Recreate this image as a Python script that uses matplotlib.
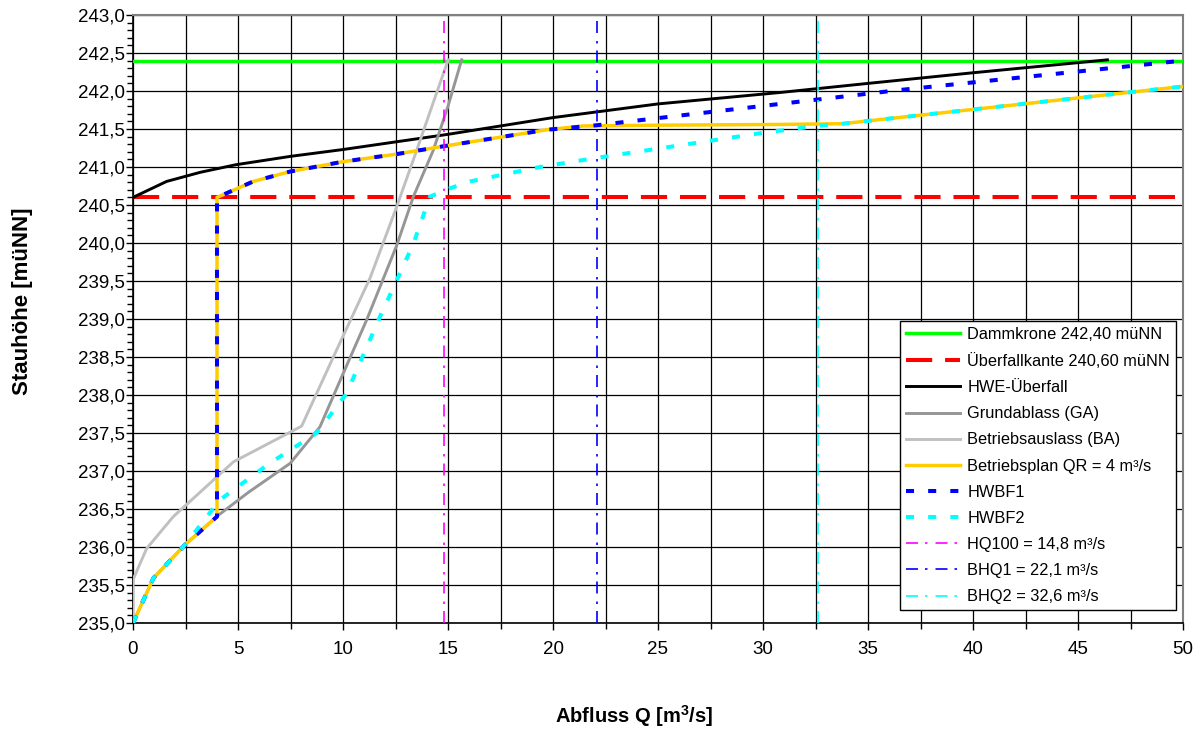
import matplotlib
matplotlib.use("Agg")
import matplotlib.pyplot as plt
from matplotlib.ticker import MultipleLocator, FuncFormatter

plt.rcParams['font.family'] = ['Liberation Sans', 'DejaVu Sans']

# ---- data ----
dammkrone = 242.40
ueberfallkante = 240.60

hwe_q = [0, 1.6, 3.2, 4.9, 7.5, 10, 15, 20, 25, 30.8, 35, 40, 46.4]
hwe_h = [240.60, 240.81, 240.93, 241.03, 241.14, 241.23, 241.43, 241.65, 241.83, 241.98, 242.10, 242.24, 242.41]

ga_q = [0, 0.97, 2.48, 3.98, 5.5, 7.48, 8.9, 9.94, 11.13, 12.56, 13.35, 14.3, 15.0, 15.65]
ga_h = [235.0, 235.59, 236.03, 236.40, 236.72, 237.10, 237.58, 238.24, 238.99, 239.97, 240.61, 241.22, 241.80, 242.41]

ba_q = [0, 0, 0.65, 1.92, 4.78, 8.03, 9.54, 11.29, 12.56, 13.51, 14.3, 15.01]
ba_h = [235.0, 235.57, 235.98, 236.40, 237.12, 237.59, 238.50, 239.54, 240.48, 241.22, 241.85, 242.41]

bp_q = [0, 0.97, 2.48, 4.0, 4.0, 5.73, 7.48, 10.0, 12.56, 14.94, 19.7, 21.44, 25.0, 30.8, 33.8, 50.0]
bp_h = [235.0, 235.59, 236.03, 236.40, 240.60, 240.81, 240.94, 241.07, 241.17, 241.28, 241.49, 241.54, 241.55, 241.56, 241.57, 242.06]

hwbf1_q = [0, 0.97, 2.48, 4.0, 4.0, 5.73, 7.48, 10.0, 12.56, 14.94, 19.7, 22.1, 36.4, 50.0]
hwbf1_h = [235.0, 235.59, 236.03, 236.40, 240.60, 240.81, 240.94, 241.07, 241.17, 241.28, 241.49, 241.55, 242.01, 242.40]

hwbf2_q = [0, 0.97, 2.48, 4.14, 6.5, 8.75, 10.17, 11.76, 12.56, 13.35, 14.14, 15.1, 16.05, 19.38, 22.08, 30.0, 32.56, 33.8, 50.0]
hwbf2_h = [235.0, 235.59, 236.03, 236.62, 237.10, 237.50, 238.02, 239.03, 239.51, 239.99, 240.61, 240.72, 240.81, 241.00, 241.12, 241.45, 241.54, 241.57, 242.06]

hq100 = 14.8
bhq1 = 22.1
bhq2 = 32.6

labels = ["Dammkrone 242,40 müNN", "Überfallkante 240,60 müNN", "HWE-Überfall",
          "Grundablass (GA)", "Betriebsauslass (BA)", "Betriebsplan QR = 4 m³/s",
          "HWBF1", "HWBF2", "HQ100 = 14,8 m³/s", "BHQ1 = 22,1 m³/s", "BHQ2 = 32,6 m³/s"]

# ---- figure ----
fig = plt.figure(figsize=(12, 7.29), dpi=100)
ax = fig.add_axes([133/1200, 1 - 623/729, 1050/1200, 608/729])

ax.set_xlim(0, 50)
ax.set_ylim(235, 243)

ax.xaxis.set_major_locator(MultipleLocator(5))
ax.xaxis.set_minor_locator(MultipleLocator(2.5))
ax.yaxis.set_major_locator(MultipleLocator(0.5))
ax.yaxis.set_minor_locator(MultipleLocator(0.1))
ax.grid(True, which='major', axis='y', color='black', lw=0.9, zorder=0)
ax.grid(True, which='both', axis='x', color='black', lw=0.9, zorder=0)
ax.set_axisbelow(True)

ax.xaxis.set_major_formatter(FuncFormatter(lambda v, p: f"{v:.0f}"))
ax.yaxis.set_major_formatter(FuncFormatter(lambda v, p: f"{v:.1f}".replace('.', ',')))
ax.tick_params(axis='both', which='major', direction='out', length=5, width=1, labelsize=13.5, colors='black')
ax.tick_params(axis='both', which='minor', direction='out', length=4, width=1)
ax.tick_params(axis='y', pad=1)
ax.tick_params(axis='x', pad=8)

for s in ['top', 'right']:
    ax.spines[s].set_color('#808080')
    ax.spines[s].set_linewidth(1.5)
for s in ['left', 'bottom']:
    ax.spines[s].set_color('black')
    ax.spines[s].set_linewidth(1.2)

dd = (7.2, 4.2, 1.5, 4.8)
handles = []
handles.append(ax.axhline(dammkrone, color='#00FF00', lw=2.5, zorder=3))
handles.append(ax.axhline(ueberfallkante, color='#FF0000', lw=2.9, dashes=(6.5, 3.2), zorder=3))
handles.append(ax.plot(hwe_q, hwe_h, color='black', lw=2.1, zorder=4)[0])
handles.append(ax.plot(ga_q, ga_h, color='#969696', lw=2.1, zorder=4)[0])
handles.append(ax.plot(ba_q, ba_h, color='#C0C0C0', lw=2.1, zorder=4)[0])
handles.append(ax.plot(bp_q, bp_h, color='#FFCC00', lw=2.5, zorder=5)[0])
handles.append(ax.plot(hwbf1_q, hwbf1_h, color='#0000FF', lw=2.9, dashes=(2, 3.5), zorder=6)[0])
handles.append(ax.plot(hwbf2_q, hwbf2_h, color='#00FFFF', lw=2.9, dashes=(2, 3.5), zorder=6)[0])
handles.append(ax.axvline(hq100, color='#FF00FF', lw=1.2, dashes=dd, zorder=7))
handles.append(ax.axvline(bhq1, color='#0000FF', lw=1.2, dashes=dd, zorder=7))
handles.append(ax.axvline(bhq2, color='#00FFFF', lw=1.2, dashes=dd, zorder=7))

leg = ax.legend(handles, labels, loc='lower right', bbox_to_anchor=(0.9933, 0.0214),
                fontsize=11.8, frameon=True, fancybox=False, edgecolor='black',
                framealpha=1, handlelength=3.35, labelspacing=0.68, borderpad=0.35,
                handletextpad=0.43, borderaxespad=0)
leg.get_frame().set_linewidth(1.0)
leg.set_zorder(10)

ax.set_xlabel("Abfluss Q [m$^\\mathregular{3}$/s]", fontsize=14.5, fontweight='bold')
ax.xaxis.label.set_va('center')
ax.xaxis.set_label_coords((634.5 - 133) / 1050, (623 - 716) / 608)
ax.set_ylabel("Stauhöhe [müNN]", fontsize=16, fontweight='bold')
ax.yaxis.set_label_coords((33 - 133) / 1050, (623 - 301) / 608)

fig.savefig("out.png", dpi=100)
